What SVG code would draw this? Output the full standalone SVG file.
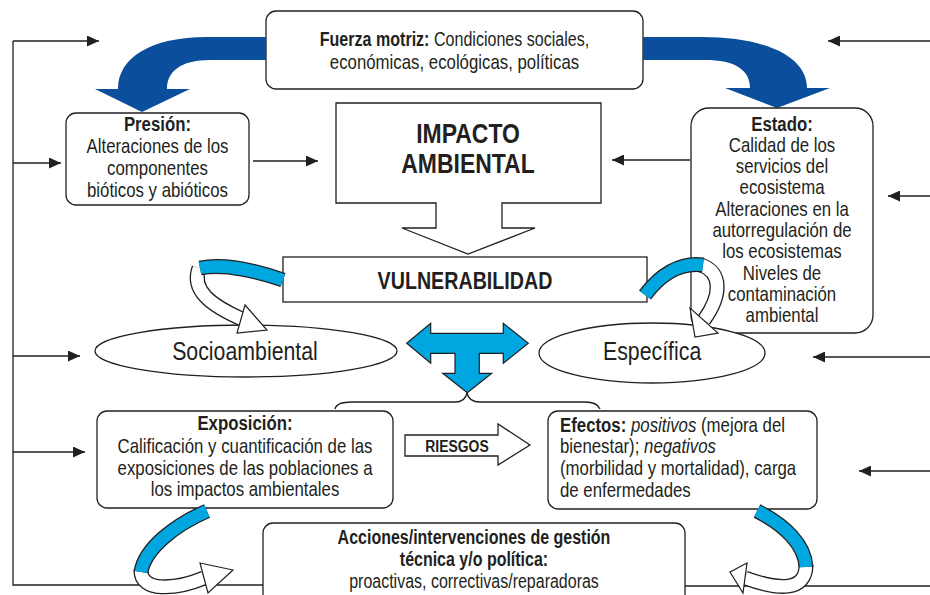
<svg xmlns="http://www.w3.org/2000/svg" width="930" height="595" viewBox="0 0 930 595">
<style>
.box{fill:#fff;stroke:#231f20;stroke-width:1.3}
.t{font-family:"Liberation Sans",Arial,sans-serif;font-size:20.5px;fill:#231f20;transform-box:fill-box;transform-origin:50% 50%;transform:scaleX(0.82)}
.l{transform-origin:0 50%}
.b{font-weight:bold}
.c{text-anchor:middle}
.conn{fill:none;stroke:#231f20;stroke-width:1.3}
.dk{fill:#0b4f9c}
.lb{fill:#00a6e0;stroke:#231f20;stroke-width:1.2;stroke-linejoin:miter}
.wh{fill:#fff;stroke:#231f20;stroke-width:1.2}
.ro{fill:none;stroke:#231f20;stroke-width:15}
.rb{fill:none;stroke:#00a6e0;stroke-width:12.4}
.rw{fill:none;stroke:#fff;stroke-width:12.4}
</style>
<defs>
<marker id="ah" markerUnits="userSpaceOnUse" markerWidth="12" markerHeight="11" viewBox="0 0 12 11" refX="12" refY="5.5" orient="auto">
<path d="M0,0 L12,5.5 L0,11 Z" fill="#231f20"/>
</marker>
</defs>

<g id="connectors">
<path class="conn" d="M13,41 V585 H263"/>
<path class="conn" d="M13,41 H99" marker-end="url(#ah)"/>
<path class="conn" d="M13,163 H61" marker-end="url(#ah)"/>
<path class="conn" d="M13,356 H80" marker-end="url(#ah)"/>
<path class="conn" d="M13,452 H85" marker-end="url(#ah)"/>
<path class="conn" d="M930,41 H828" marker-end="url(#ah)"/>
<path class="conn" d="M930,196 H888" marker-end="url(#ah)"/>
<path class="conn" d="M930,357 H813" marker-end="url(#ah)"/>
<path class="conn" d="M930,471 H859" marker-end="url(#ah)"/>
<path class="conn" d="M685,586 H930"/>
<path class="conn" d="M253,161 H318" marker-end="url(#ah)"/>
<path class="conn" d="M690,160 H612" marker-end="url(#ah)"/>
<path class="conn" d="M335,409 C336,404 342,402 352,402 L455,402 C462,402 466,398 467,393 C468,398 472,402 480,402 L585,402 C594,402 598,404 600,409"/>
</g>

<g id="fuerza">
<rect class="box" x="266" y="11" width="377" height="78" rx="10"/>
<text class="t c" x="454.5" y="46" style="font-size:19.6px"><tspan class="b">Fuerza motriz:</tspan> Condiciones sociales,</text>
<text class="t c" x="454.5" y="69">económicas, ecológicas, políticas</text>
</g>

<g id="flow-arrows">
<path class="dk" d="M266,37 L207,37 C150,37 118,58 118,89 L95,89 L142,112 L190,89 L167,89 C167,72 180,60 210,60 L266,60 Z"/>
<path class="dk" d="M643,37 L702,37 C762,37 807,55 807,88 L830,88 L777,108 L725,88 L750,88 C750,70 735,60 705,60 L643,60 Z"/>
</g>

<g id="presion">
<rect class="box" x="66" y="113" width="183" height="92" rx="10"/>
<text class="t c b" x="157.5" y="131">Presión:</text>
<text class="t c" x="157.5" y="153">Alteraciones de los</text>
<text class="t c" x="157.5" y="175">componentes</text>
<text class="t c" x="157.5" y="197">bióticos y abióticos</text>
</g>

<g id="impacto">
<path class="box" d="M336,103 H601 V203 H502 V228 H535 L468,254 L402,228 H436 V203 H336 Z"/>
<text class="t c b" x="468" y="143" style="font-size:28px">IMPACTO</text>
<text class="t c b" x="468" y="173" style="font-size:28px">AMBIENTAL</text>
</g>

<g id="estado">
<rect class="box" x="691" y="108" width="182" height="225" rx="18"/>
<text class="t c b" x="782" y="131">Estado:</text>
<text class="t c" x="782" y="152">Calidad de los</text>
<text class="t c" x="782" y="173">servicios del</text>
<text class="t c" x="782" y="194">ecosistema</text>
<text class="t c" x="782" y="216">Alteraciones en la</text>
<text class="t c" x="782" y="237">autorregulación de</text>
<text class="t c" x="782" y="258">los ecosistemas</text>
<text class="t c" x="782" y="280">Niveles de</text>
<text class="t c" x="782" y="301">contaminación</text>
<text class="t c" x="782" y="322">ambiental</text>
</g>

<g id="vulnerabilidad">
<rect class="box" x="283" y="257" width="364" height="45"/>
<text class="t c b" x="465" y="289" style="font-size:24px">VULNERABILIDAD</text>
</g>

<g id="socioambiental">
<ellipse class="box" cx="246" cy="351" rx="151" ry="26"/>
<text class="t c" x="245" y="360" style="font-size:26px">Socioambiental</text>
</g>

<g id="especifica">
<ellipse class="box" cx="652" cy="353" rx="113" ry="30"/>
<text class="t c" x="652" y="360" style="font-size:26px">Específica</text>
</g>

<g id="t-arrow">
<path class="lb" d="M406.7,343.3 L430.7,323.3 V333.3 H503.3 V323.3 L528.3,343.3 L503.3,363.3 V353.3 H479.3 V373.3 H491.7 L467.3,392.7 L442.7,373.3 H455 V353.3 H430.7 V363.3 Z"/>
</g>

<g id="exposicion">
<rect class="box" x="97" y="411" width="296" height="97" rx="10"/>
<text class="t c b" x="245" y="430">Exposición:</text>
<text class="t c" x="245" y="453">Calificación y cuantificación de las</text>
<text class="t c" x="245" y="475">exposiciones de las poblaciones a</text>
<text class="t c" x="245" y="496">los impactos ambientales</text>
</g>

<g id="riesgos">
<path class="box" d="M405,435 H498 V424 L530,445 L498,465 V456 H405 Z"/>
<text class="t c b" x="457" y="452" style="font-size:17px">RIESGOS</text>
</g>

<g id="efectos">
<rect class="box" x="548" y="411" width="269" height="98" rx="10"/>
<text class="t l" x="560" y="432"><tspan class="b">Efectos:</tspan> <tspan font-style="italic">positivos</tspan> (mejora del</text>
<text class="t l" x="560" y="453">bienestar); <tspan font-style="italic">negativos</tspan></text>
<text class="t l" x="560" y="475">(morbilidad y mortalidad), carga</text>
<text class="t l" x="560" y="497">de enfermedades</text>
</g>

<g id="acciones">
<rect class="box" x="263" y="523" width="422" height="90" rx="10"/>
<text class="t c b" x="474" y="544" style="font-size:19.5px">Acciones/intervenciones de gestión</text>
<text class="t c b" x="474" y="566" style="font-size:19.5px">técnica y/o política:</text>
<text class="t c" x="474" y="588" style="font-size:19.5px">proactivas, correctivas/reparadoras</text>
</g>

<g id="curl-arrows">
<path class="ro" d="M199,268 C191,290 210,305 242,319"/>
<path class="rw" d="M199,268 C191,290 210,305 242,319"/>
<polygon class="wh" points="245,305 267,330 237,333"/>
<path class="ro" d="M283,280 C260,272 225,263 200,268"/>
<path class="rb" d="M283,280 C260,272 225,263 200,268"/>
<path class="ro" d="M701,265 C722,272 722,295 704,320"/>
<path class="rw" d="M701,265 C722,272 722,295 704,320"/>
<polygon class="wh" points="690,308 695,337 718,333"/>
<path class="ro" d="M645,295 C660,275 680,262 703,265"/>
<path class="rb" d="M645,295 C660,275 680,262 703,265"/>
<path class="ro" d="M141,570 C140,592 175,590 204,578"/>
<path class="rw" d="M141,570 C140,592 175,590 204,578"/>
<polygon class="wh" points="200,563 233,570 208,593"/>
<path class="ro" d="M207,511 C175,525 145,548 141,572"/>
<path class="rb" d="M207,511 C175,525 145,548 141,572"/>
<path class="ro" d="M806,565 C806,592 778,590 745,578"/>
<path class="rw" d="M806,565 C806,592 778,590 745,578"/>
<polygon class="wh" points="747,563 730,572 743,593"/>
<path class="ro" d="M757,511 C785,525 805,545 806,567"/>
<path class="rb" d="M757,511 C785,525 805,545 806,567"/>
</g>
</svg>
